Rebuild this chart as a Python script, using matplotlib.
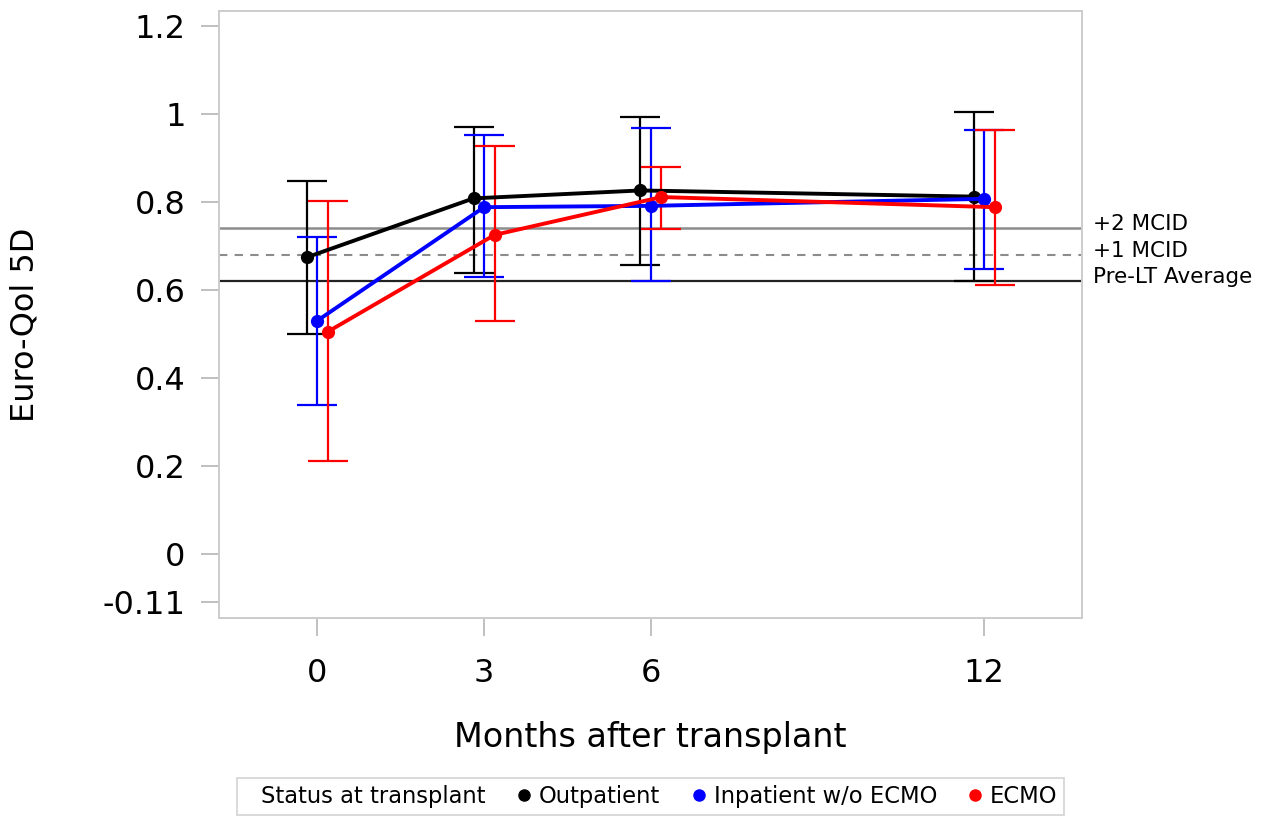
import matplotlib
matplotlib.use("Agg")
import matplotlib.pyplot as plt
from matplotlib.lines import Line2D

# ---- data ----
months = [0, 3, 6, 12]
series_names = ["Outpatient", "Inpatient w/o ECMO", "ECMO"]
out_mean = [0.674, 0.808, 0.826, 0.812]
out_lo = [0.499, 0.638, 0.657, 0.620]
out_hi = [0.848, 0.970, 0.992, 1.005]
inp_mean = [0.530, 0.788, 0.791, 0.807]
inp_lo = [0.339, 0.630, 0.621, 0.647]
inp_hi = [0.721, 0.951, 0.967, 0.964]
ecmo_mean = [0.505, 0.725, 0.811, 0.788]
ecmo_lo = [0.212, 0.530, 0.738, 0.611]
ecmo_hi = [0.801, 0.928, 0.880, 0.964]

ref_values = [0.74, 0.68, 0.62]
ref_labels = ["+2 MCID", "+1 MCID", "Pre-LT Average"]

yticks = [-0.11, 0, 0.2, 0.4, 0.6, 0.8, 1, 1.2]
ytick_labels = ["-0.11", "0", "0.2", "0.4", "0.6", "0.8", "1", "1.2"]
xticks = [0, 3, 6, 12]
xtick_labels = ["0", "3", "6", "12"]

# ---- style ----
plt.rcParams['font.family'] = ['DejaVu Sans']
fig = plt.figure(figsize=(12.84, 8.19), dpi=100)
ax = fig.add_axes([219/1284, 1-618/819, (1082-219)/1284, (618-11)/819])

colors = ["black", "#0000ff", "#ff0000"]
offsets = [-0.19, 0.0, 0.19]
means = [out_mean, inp_mean, ecmo_mean]
los = [out_lo, inp_lo, ecmo_lo]
his = [out_hi, inp_hi, ecmo_hi]

# reference lines
ref_styles = [dict(color="#8c8c8c", ls="-", lw=1.8),
              dict(color="#8c8c8c", ls=(0, (4, 3.5)), lw=1.5),
              dict(color="#222222", ls="-", lw=1.6)]
for v, lab, st in zip(ref_values, ref_labels, ref_styles):
    ax.axhline(v, zorder=1, **st)
    ax.text(1.0127, v + 0.009, lab, transform=ax.get_yaxis_transform(),
            ha="left", va="center", fontsize=15.5, clip_on=False)

for m, lo, hi, c, off in zip(means, los, his, colors, offsets):
    x = [t + off for t in months]
    yerr = [[a - b for a, b in zip(m, lo)], [b - a for a, b in zip(m, hi)]]
    ax.errorbar(x, m, yerr=yerr, fmt="none", ecolor=c, elinewidth=1.6,
                capsize=14.5, capthick=1.6, zorder=3)
    ax.plot(x, m, color=c, lw=2.8, marker="o", markersize=8.5, zorder=4)

ax.set_xlim(-1.77, 13.76)
ax.set_ylim(-0.146, 1.234)
ax.set_yticks(yticks)
ax.set_yticklabels(ytick_labels)
ax.set_xticks(xticks)
ax.set_xticklabels(xtick_labels)

for sp in ax.spines.values():
    sp.set_color("#cccccc")
    sp.set_linewidth(1.4)
ax.tick_params(axis="both", colors="#bbbbbb", labelcolor="black",
               labelsize=23, length=13, width=1.3)
ax.tick_params(axis="y", pad=11)
ax.tick_params(axis="x", pad=16)

ax.set_ylabel("Euro-Qol 5D", fontsize=23)
ax.yaxis.set_label_coords(-0.207, 0.483)
ax.set_xlabel("Months after transplant", fontsize=24)
ax.xaxis.set_label_coords(0.5, -0.17)

# legend
handles = [Line2D([], [], linestyle="none", marker=None)]
labels = ["Status at transplant"]
for c, n in zip(colors, series_names):
    handles.append(Line2D([], [], linestyle="none", marker="o", color=c, markersize=8))
    labels.append(n)
leg = fig.legend(handles, labels, ncol=4, loc="center",
                 bbox_to_anchor=(650.5/1284, 1-796.5/819), fontsize=16.3,
                 frameon=True, fancybox=False, edgecolor="#cccccc",
                 handlelength=0.3, handletextpad=0.5, columnspacing=1.55,
                 borderpad=0.3, borderaxespad=0.0)
leg.get_frame().set_linewidth(1.3)

fig.savefig("out.png", dpi=100)
